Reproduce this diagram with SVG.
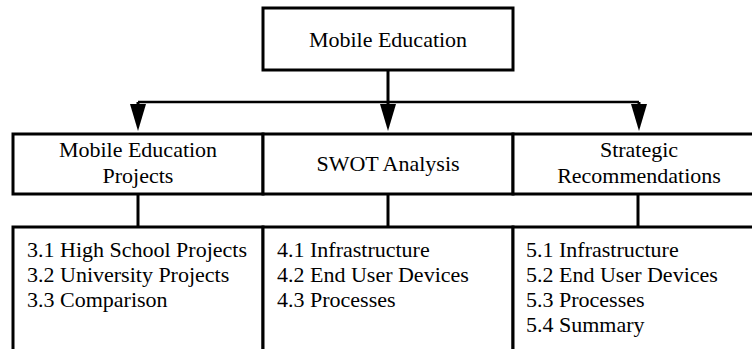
<svg xmlns="http://www.w3.org/2000/svg" width="752" height="349" viewBox="0 0 752 349">
<style>
.box{fill:#fff;stroke:#000;stroke-width:3}
.c{text-anchor:middle}
.con{fill:none;stroke:#000;stroke-width:3}
.h{fill:none;stroke:#000;stroke-width:2.5}
</style>
<defs>
<path id="ah" d="M-8,0 L8,0 L0,27 z" fill="#000"/>
</defs>
<rect width="752" height="349" fill="#fff"/>
<g id="connectors">
<path class="h" d="M138,102 H639"/>
<path class="con" d="M388,70 V110"/>
<path class="con" d="M138,102 V110"/>
<path class="con" d="M639,102 V110"/>
<use href="#ah" x="388" y="104"/>
<use href="#ah" x="138" y="104"/>
<use href="#ah" x="639" y="104"/>
<path class="con" d="M138,194 V227"/>
<path class="con" d="M388,194 V227"/>
<path class="con" d="M638,194 V227"/>
</g>
<g font-family="Liberation Serif, Times New Roman, DejaVu Serif, serif" font-size="22" fill="#000">
<g id="root">
<rect class="box" x="263" y="8" width="250" height="62"/>
<text class="c" x="388" y="47">Mobile Education</text>
</g>
<g id="projects">
<rect class="box" x="13" y="134" width="250" height="60"/>
<text class="c" x="138" y="157">Mobile Education</text>
<text class="c" x="138" y="183">Projects</text>
</g>
<g id="swot">
<rect class="box" x="263" y="134" width="250" height="60"/>
<text class="c" x="388" y="171">SWOT Analysis</text>
</g>
<g id="strategic">
<rect class="box" x="513" y="134" width="260" height="60"/>
<text class="c" x="639" y="157">Strategic</text>
<text class="c" x="639" y="183">Recommendations</text>
</g>
<g id="projects-list">
<rect class="box" x="13" y="227" width="250" height="140"/>
<text x="27" y="257">3.1 High School Projects</text>
<text x="27" y="282">3.2 University Projects</text>
<text x="27" y="307">3.3 Comparison</text>
</g>
<g id="swot-list">
<rect class="box" x="263" y="227" width="250" height="140"/>
<text x="277" y="257">4.1 Infrastructure</text>
<text x="277" y="282">4.2 End User Devices</text>
<text x="277" y="307">4.3 Processes</text>
</g>
<g id="strategic-list">
<rect class="box" x="513" y="227" width="260" height="140"/>
<text x="526" y="257">5.1 Infrastructure</text>
<text x="526" y="282">5.2 End User Devices</text>
<text x="526" y="307">5.3 Processes</text>
<text x="526" y="332">5.4 Summary</text>
</g>
</g>
</svg>
